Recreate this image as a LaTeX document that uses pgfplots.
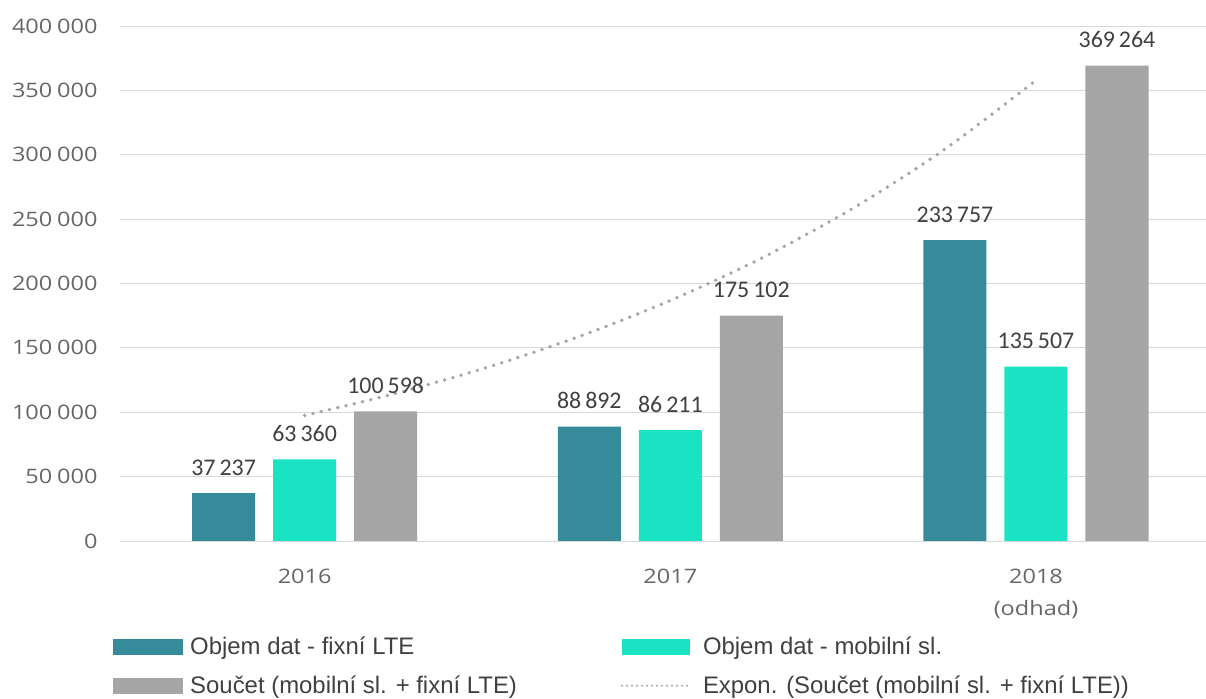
\documentclass[border=0pt]{standalone}
\usepackage{pgfplots}
\pgfplotsset{compat=1.18}
\usepackage{fontspec}
\setmainfont{Open Sans}
\newfontfamily\tickfont[FakeStretch=1.18]{Open Sans}
\newfontfamily\lblfont{Carlito}
\newfontfamily\legfont{Liberation Sans}
\definecolor{cteal}{HTML}{368B9B}
\definecolor{cturq}{HTML}{1AE3C4}
\definecolor{cgray}{HTML}{A5A5A5}
\definecolor{cgrid}{HTML}{D9D9D9}
\definecolor{ctick}{HTML}{666666}
\definecolor{clab}{HTML}{404040}
\newcommand{\ts}{\hspace{0.24em}}
\begin{document}
\begin{tikzpicture}
\useasboundingbox (0,0) rectangle (1206bp,699bp);
\begin{axis}[
  at={(120bp,158bp)}, anchor=south west,
  scale only axis, width=1086bp, height=515bp,
  xmin=-0.505, xmax=2.465, ymin=0, ymax=400000,
  ybar=18bp, bar width=63bp,
  xtick={0,1,2}, xticklabels={2016,2017,{2018\\(odhad)}},
  ytick={0,50000,100000,150000,200000,250000,300000,350000,400000},
  yticklabels={0,50\ts000,100\ts000,150\ts000,200\ts000,250\ts000,300\ts000,350\ts000,400\ts000},
  ymajorgrids, grid style={cgrid, line width=0.8bp},
  axis line style={draw=none},
  major tick length=0pt,
  scaled y ticks=false,
  tick label style={font=\tickfont\fontsize{20}{32}\selectfont, text=ctick},
  yticklabel style={xshift=-19bp},
  xticklabel style={align=center, yshift=-25bp},
  lbl/.style={nodes near coords, point meta=explicit symbolic,
    every node near coord/.append style={font=\lblfont\fontsize{24}{24}\selectfont, text=clab, anchor=base, yshift=18bp, inner sep=0pt}},
  legend columns=2,
  legend cell align=left,
  legend style={at={(-0.0064,-0.1825)}, anchor=north west, draw=none, fill=none,
    font=\legfont\fontsize{24}{24}\selectfont, text=clab, inner sep=0pt,
    column sep=5bp, row sep=16bp,
    /tikz/every even column/.append style={column sep=102bp}},
]
\addplot[lbl, fill=cteal, draw=none,
  legend image code/.code={\fill[cteal] (0bp,-8bp) rectangle (70bp,8bp);}]
  coordinates {(0,37237) [37\,237] (1,88892) [88\,892] (2,233757) [233\,757]};
\addlegendentry{Objem dat - fixní LTE}
\addplot[lbl, fill=cturq, draw=none,
  legend image code/.code={\fill[cturq] (0bp,-8bp) rectangle (68bp,8bp); \path (74bp,0bp);}]
  coordinates {(0,63360) [63\,360] (1,86211) [86\,211] (2,135507) [135\,507]};
\addlegendentry{Objem dat - mobilní sl.}
\addplot[lbl, fill=cgray, draw=none,
  legend image code/.code={\fill[cgray] (0bp,-8bp) rectangle (70bp,8bp);}]
  coordinates {(0,100598) [100\,598] (1,175102) [175\,102] (2,369264) [369\,264]};
\addlegendentry{Součet (mobilní sl. + fixní LTE)}
\addplot[smooth, draw=cgray, line width=3.8bp, line cap=round, dash pattern=on 0pt off 8.5bp, mark=none,
  legend image code/.code={\draw[cgray, line width=2.2bp, line cap=round, dash pattern=on 0pt off 5bp] (0bp,0bp) -- (66bp,0bp); \path (72bp,0bp);}]
  coordinates {(0,97500) (0.25,114700) (0.5,134950) (0.75,158770) (1,186790) (1.25,219760) (1.5,258520) (1.75,304170) (2,357850)};
\addlegendentry{Expon. (Součet (mobilní sl. + fixní LTE))}
\end{axis}
\end{tikzpicture}
\end{document}
